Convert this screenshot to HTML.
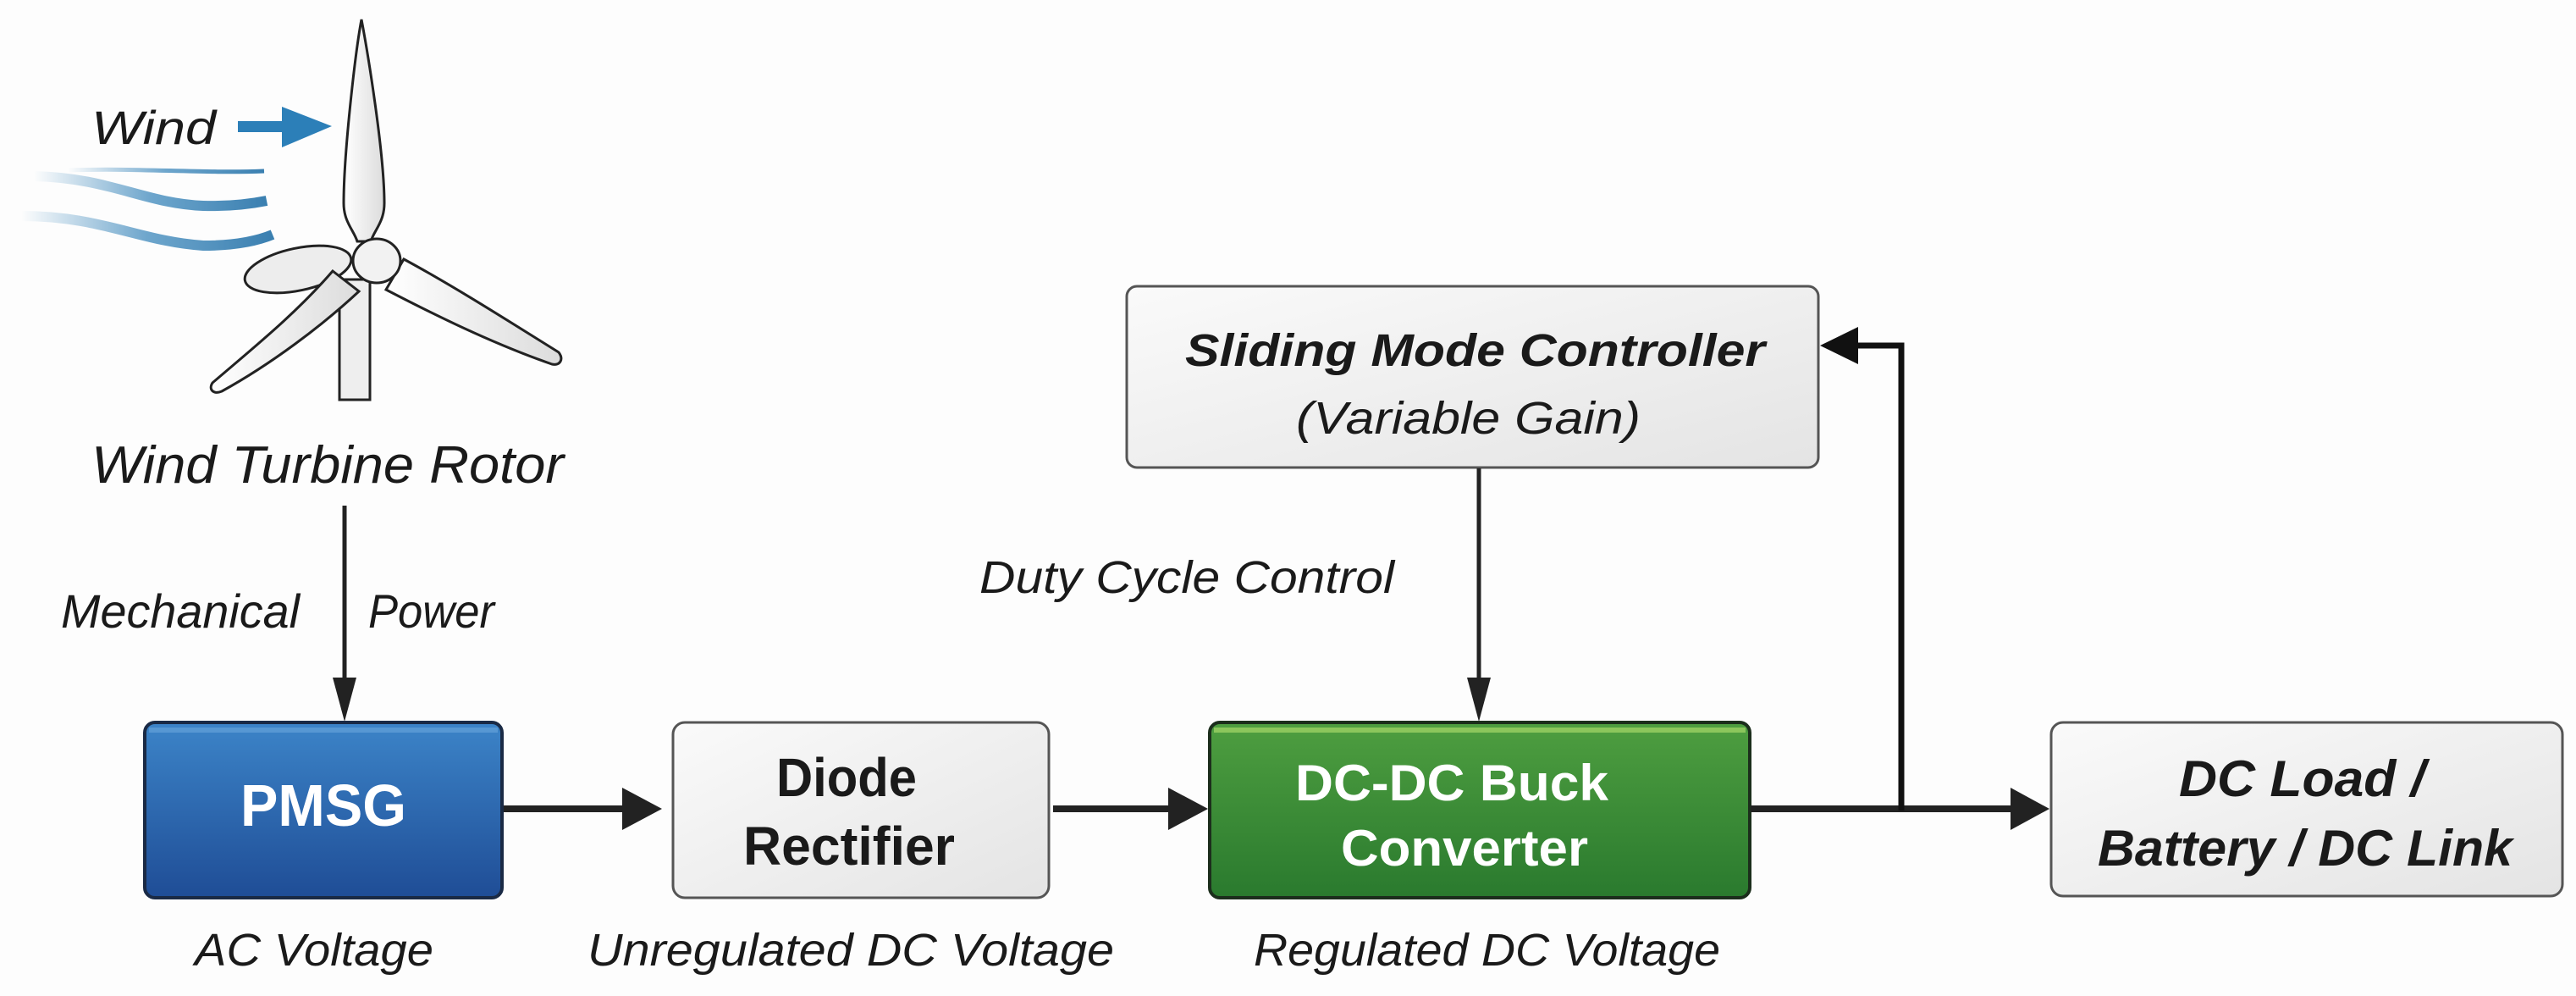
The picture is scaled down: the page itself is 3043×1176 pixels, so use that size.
<!DOCTYPE html>
<html><head><meta charset="utf-8"><style>
html,body{margin:0;padding:0;background:#fdfdfd;}
svg{display:block;}
text{font-family:"Liberation Sans",sans-serif;}
</style></head><body>
<svg width="3043" height="1176" viewBox="0 0 3043 1176" xmlns="http://www.w3.org/2000/svg">
<defs>
<linearGradient id="blue" x1="0" y1="0" x2="0" y2="1"><stop offset="0" stop-color="#3c84c8"/><stop offset="1" stop-color="#1f4d96"/></linearGradient>
<linearGradient id="green" x1="0" y1="0" x2="0" y2="1"><stop offset="0" stop-color="#4e9e40"/><stop offset="1" stop-color="#2a7a2e"/></linearGradient>
<linearGradient id="gray" x1="0" y1="0" x2="1" y2="1"><stop offset="0" stop-color="#fafafa"/><stop offset="1" stop-color="#e4e4e4"/></linearGradient>
<linearGradient id="windg" x1="0" y1="0" x2="1" y2="0"><stop offset="0" stop-color="#4a90c0" stop-opacity="0"/><stop offset="0.5" stop-color="#4a90c0" stop-opacity="0.8"/><stop offset="1" stop-color="#3a7fb0"/></linearGradient>
<linearGradient id="blade" x1="0" y1="0" x2="1" y2="0"><stop offset="0" stop-color="#ffffff"/><stop offset="1" stop-color="#dcdcdc"/></linearGradient>
</defs>
<rect width="3043" height="1176" fill="#fdfdfd"/>

<!-- wind lines -->
<path d="M80 201 C160 198 240 205 312 202" stroke="url(#windg)" stroke-width="5" fill="none"/>
<path d="M40 208 C130 210 170 240 240 243 C275 244 300 240 315 237" stroke="url(#windg)" stroke-width="12" fill="none"/>
<path d="M25 255 C120 255 165 285 240 290 C280 290 305 284 322 277" stroke="url(#windg)" stroke-width="12" fill="none"/>
<!-- wind arrow -->
<text x="108" y="170" font-size="56" font-style="italic" fill="#1a1a1a" textLength="147" lengthAdjust="spacingAndGlyphs">Wind</text>
<rect x="281" y="143" width="54" height="13" fill="#2c7fb8"/>
<polygon points="333,126 392,149 333,174" fill="#2c7fb8"/>

<!-- turbine -->
<rect x="401" y="330" width="36" height="142" fill="#eeeeee" stroke="#222" stroke-width="3"/>
<ellipse cx="352" cy="318" rx="64" ry="25" transform="rotate(-12 352 318)" fill="#ededed" stroke="#222" stroke-width="3"/>
<path d="M427 23 C420 60 406 180 406 240 C406 262 418 272 422 285 L438 285 C442 272 454 262 454 240 C454 180 434 60 427 23 Z" fill="url(#blade)" stroke="#222" stroke-width="3"/>
<path d="M393 320 C350 370 300 410 251 452 C246 460 252 466 262 462 C320 430 380 385 424 344 Z" fill="url(#blade)" stroke="#222" stroke-width="3"/>
<path d="M477 306 C540 340 610 385 660 416 C666 424 662 432 652 430 C580 405 510 370 456 342 Z" fill="url(#blade)" stroke="#222" stroke-width="3"/>
<ellipse cx="445" cy="308" rx="28" ry="26" fill="#f2f2f2" stroke="#222" stroke-width="3"/>
<text x="108" y="570" font-size="62" font-style="italic" fill="#1a1a1a" textLength="558" lengthAdjust="spacingAndGlyphs">Wind Turbine Rotor</text>

<!-- mechanical arrow -->
<line x1="407" y1="597" x2="407" y2="815" stroke="#222" stroke-width="5"/>
<polygon points="393,800 421,800 407,852" fill="#222"/>
<text x="72" y="741" font-size="56" font-style="italic" fill="#1a1a1a" textLength="282" lengthAdjust="spacingAndGlyphs">Mechanical</text>
<text x="435" y="741" font-size="56" font-style="italic" fill="#1a1a1a" textLength="149" lengthAdjust="spacingAndGlyphs">Power</text>

<!-- PMSG -->
<rect x="171" y="853" width="422" height="207" rx="12" fill="url(#blue)" stroke="#1a2a45" stroke-width="4"/>
<rect x="176" y="859" width="412" height="6" fill="#6aa7dc" opacity="0.6"/>
<text x="382" y="975" font-size="70" font-weight="bold" fill="#fff" text-anchor="middle" textLength="196" lengthAdjust="spacingAndGlyphs">PMSG</text>
<text x="230" y="1140" font-size="54" font-style="italic" fill="#1a1a1a" textLength="282" lengthAdjust="spacingAndGlyphs">AC Voltage</text>

<!-- arrow PMSG->Diode -->
<line x1="595" y1="955" x2="750" y2="955" stroke="#222" stroke-width="8"/>
<polygon points="735,930 782,955 735,980" fill="#222"/>

<!-- Diode -->
<rect x="795" y="853" width="444" height="207" rx="14" fill="url(#gray)" stroke="#555" stroke-width="3"/>
<text x="1000" y="940" font-size="64" font-weight="bold" fill="#1a1a1a" text-anchor="middle" textLength="166" lengthAdjust="spacingAndGlyphs">Diode</text>
<text x="1003" y="1021" font-size="64" font-weight="bold" fill="#1a1a1a" text-anchor="middle" textLength="250" lengthAdjust="spacingAndGlyphs">Rectifier</text>
<text x="694" y="1140" font-size="54" font-style="italic" fill="#1a1a1a" textLength="622" lengthAdjust="spacingAndGlyphs">Unregulated DC Voltage</text>

<!-- arrow Diode->Buck -->
<line x1="1244" y1="955" x2="1395" y2="955" stroke="#222" stroke-width="8"/>
<polygon points="1380,930 1427,955 1380,980" fill="#222"/>

<!-- Buck -->
<rect x="1429" y="853" width="638" height="207" rx="12" fill="url(#green)" stroke="#1c2e1c" stroke-width="4"/>
<rect x="1434" y="859" width="628" height="6" fill="#a6d86a" opacity="0.7"/>
<text x="1715" y="945" font-size="60" font-weight="bold" fill="#fff" text-anchor="middle" textLength="370" lengthAdjust="spacingAndGlyphs">DC-DC Buck</text>
<text x="1730" y="1022" font-size="60" font-weight="bold" fill="#fff" text-anchor="middle" textLength="292" lengthAdjust="spacingAndGlyphs">Converter</text>
<text x="1481" y="1140" font-size="54" font-style="italic" fill="#1a1a1a" textLength="551" lengthAdjust="spacingAndGlyphs">Regulated DC Voltage</text>

<!-- SMC -->
<rect x="1331" y="338" width="817" height="214" rx="12" fill="url(#gray)" stroke="#555" stroke-width="3"/>
<text x="1400" y="432" font-size="54" font-style="italic" font-weight="bold" fill="#1a1a1a" textLength="685" lengthAdjust="spacingAndGlyphs">Sliding Mode Controller</text>
<text x="1531" y="512" font-size="54" font-style="italic" fill="#1a1a1a" textLength="407" lengthAdjust="spacingAndGlyphs">(Variable Gain)</text>
<text x="1157" y="700" font-size="54" font-style="italic" fill="#1a1a1a" textLength="490" lengthAdjust="spacingAndGlyphs">Duty Cycle Control</text>

<!-- SMC -> Buck -->
<line x1="1747" y1="553" x2="1747" y2="815" stroke="#222" stroke-width="5"/>
<polygon points="1733,800 1761,800 1747,852" fill="#222"/>

<!-- Buck -> Load + feedback -->
<line x1="2068" y1="955" x2="2390" y2="955" stroke="#222" stroke-width="8"/>
<polygon points="2375,930 2421,955 2375,980" fill="#222"/>
<polyline points="2246,957 2246,408 2180,408" fill="none" stroke="#111" stroke-width="7"/>
<polygon points="2195,386 2150,408 2195,430" fill="#111"/>

<!-- DC Load -->
<rect x="2423" y="853" width="604" height="205" rx="14" fill="url(#gray)" stroke="#555" stroke-width="3"/>
<text x="2574" y="940" font-size="60" font-style="italic" font-weight="bold" fill="#1a1a1a" textLength="291" lengthAdjust="spacingAndGlyphs">DC Load /</text>
<text x="2478" y="1022" font-size="60" font-style="italic" font-weight="bold" fill="#1a1a1a" textLength="490" lengthAdjust="spacingAndGlyphs">Battery / DC Link</text>
</svg>
</body></html>
